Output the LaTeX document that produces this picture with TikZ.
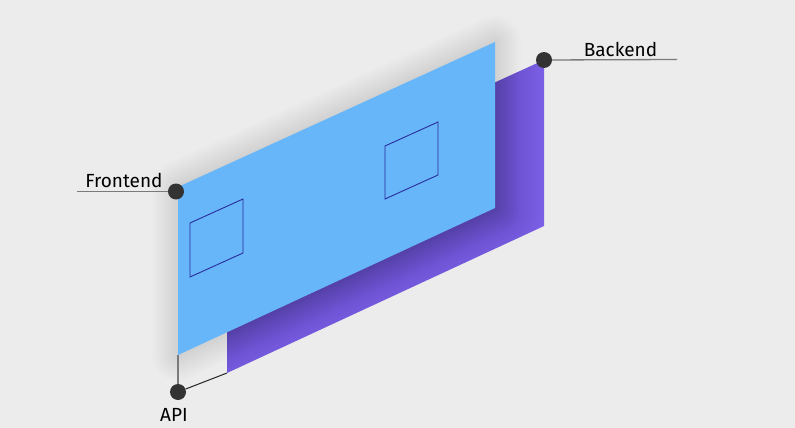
\documentclass[tikz,border=0pt]{standalone}
\usepackage{fontspec}
\setmainfont{Fira Sans}
\definecolor{bgc}{HTML}{ECECEC}
\definecolor{bluec}{HTML}{66B6F9}
\definecolor{purpc}{HTML}{7B60E7}
\definecolor{dotc}{HTML}{333333}
\definecolor{winc}{HTML}{2B2B9B}
\definecolor{leadc}{HTML}{7A7A7A}
\tikzset{
  dot/.style={circle,fill=dotc,inner sep=0pt,minimum size=16pt},
  leader/.style={leadc,line width=1.3pt},
  leaderdark/.style={black!85,line width=1pt},
  win/.style={winc,line width=0.9pt,line join=miter},
  lab/.style={font=\fontsize{19}{22}\selectfont,text=black,inner sep=0pt,anchor=base},
}
\begin{document}
\begin{tikzpicture}[x=1pt,y=1pt]
\fill[bgc] (0,0) rectangle (795,-428);
\useasboundingbox (0,0) rectangle (795,-428);
% panel corners
\coordinate (b1) at (178,-187);
\coordinate (b2) at (495,-42);
\coordinate (b3) at (495,-208);
\coordinate (b4) at (178,-355);
\coordinate (p1) at (227,-205);
\coordinate (p2) at (544,-60);
\coordinate (p3) at (544,-226);
\coordinate (p4) at (227,-373);
% back panel
\fill[purpc] (p1)--(p2)--(p3)--(p4)--cycle;
\begin{scope}
  \clip (p1)--(p2)--(p3)--(p4)--cycle;
  \foreach \w in {96,88,...,8}
    \draw[black,opacity=0.012,line width=\w pt,line join=round] (b1)--(b2)--(b3)--(b4)--cycle;
\end{scope}
% soft shadow of the front panel
\foreach \w in {52,48,...,4}
  \draw[black,opacity=0.008,line width=\w pt,line join=round] (b1)--(b2)--(b3)--(b4)--cycle;
% front panel
\fill[bluec] (b1)--(b2)--(b3)--(b4)--cycle;
% windows
\draw[win] (190,-223) -- (243,-199) -- (243,-253) -- (190,-277) -- cycle;
\draw[win] (385,-146) -- (438,-122) -- (438,-175) -- (385,-199) -- cycle;
% markers
\node[dot] (fdot) at (176,-191.5) {};
\node[dot] (bdot) at (544,-60) {};
\node[dot] (adot) at (178,-392) {};
\coordinate (fend) at (77,-191.5);
\coordinate (bend) at (677,-59.5);
\draw[leader] (fend) -- (fdot);
\draw[leader] (bdot) -- (bend);
\draw[leader] (adot) -- (b4);
\draw[leaderdark] (adot) -- (p4);
% labels
\node[lab] (flab) at (124,-187) {Frontend};
\node[lab] (blab) at (620.5,-56.5) {Backend};
\node[lab] (alab) at (174,-421) {API};
\end{tikzpicture}
\end{document}
